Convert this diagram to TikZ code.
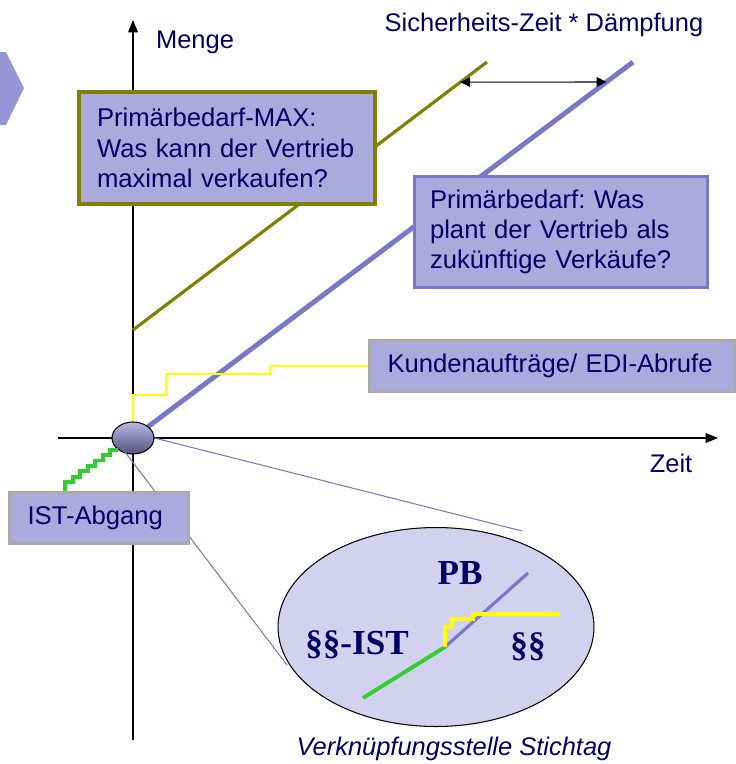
\documentclass[tikz,border=0pt]{standalone}
\usepackage{fontspec}
\setmainfont{Liberation Sans}
\newfontfamily\serifbold{Liberation Serif}[BoldFont={Liberation Serif Bold}]
\usepackage{tikz}
\usepackage{xcolor}
\usetikzlibrary{positioning, shapes.geometric, arrows.meta}
\frenchspacing

\definecolor{navy}{RGB}{0,0,102}
\definecolor{boxfill}{RGB}{170,170,221}
\definecolor{olivlinie}{RGB}{128,128,0}
\definecolor{pblinie}{RGB}{120,120,200}
\definecolor{grau}{RGB}{170,170,170}
\definecolor{lupenfill}{RGB}{210,210,238}
\definecolor{gruen}{RGB}{51,204,51}
\definecolor{gelb}{RGB}{255,255,0}
\definecolor{pfeilfill}{RGB}{150,150,214}

\begin{document}
\begin{tikzpicture}[
    x=0.02cm, y=-0.02cm,
    kasten/.style={rectangle, draw, fill=boxfill, line width=2pt, text=navy,
      align=left, inner ysep=0pt, font=\fontsize{14.6}{17.2}\selectfont},
    beschr/.style={text=navy, inner sep=0pt, font=\fontsize{14.5}{16}\selectfont},
    lupentext/.style={text=navy, inner sep=0pt, font=\serifbold\bfseries\fontsize{20}{22}\selectfont},
    achse/.style={line width=0.7pt, -{Triangle[length=7pt,width=5.5pt]}},
    lupenlinie/.style={draw=pblinie, line width=0.6pt},
    line/.style={-}
    ]

    \useasboundingbox (0,0) rectangle (736,764);

    % Pfeil links
    \fill[pfeilfill] (0,52) -- (6,52) -- (24,88) -- (6,125) -- (0,125) -- cycle;

    % Achsen
    \coordinate (Ursprung) at (133,438);
    \coordinate (xAnfang) at (58,438);
    \coordinate (xEnde) at (718,438);
    \coordinate (yAnfang) at (133,740);
    \coordinate (yEnde) at (133,20);
    \draw[achse] (xAnfang) -- (xEnde);
    \draw[achse] (yAnfang) -- (yEnde);

    \node[beschr] (Menge) at (195,42) {Menge};
    \node[beschr] (Zeit) at (671,463) {Zeit};

    % Kurven
    \coordinate (MaxAnfang) at (133,330);
    \coordinate (MaxEnde) at (487,62);
    \coordinate (PbEnde) at (633,62);
    \draw[olivlinie, line width=1.8pt] (MaxAnfang) -- (MaxEnde);
    \draw[pblinie, line width=2.8pt] (Ursprung) -- (PbEnde);

    % Sicherheitszeit
    \path (MaxAnfang) -- (MaxEnde) coordinate[pos=0.925] (MaxPunkt);
    \path (Ursprung) -- (PbEnde) coordinate[pos=0.9468] (PbPunkt);
    \draw[line width=0.6pt, {Triangle[length=5.5pt,width=5.5pt]}-{Triangle[length=5.5pt,width=5.5pt]}]
    (MaxPunkt) -- (PbPunkt);
    \node[beschr] (Sicherheit) at (544,25) {Sicherheits-Zeit * Dämpfung};

    % Kundenauftraege
    \node[kasten, draw=grau, line width=1.7pt, text width=6.58cm,
      inner xsep=0.36cm, minimum height=1.04cm] (Kunden) at (552,366)
    {Kundenaufträge/ EDI-Abrufe};
    \draw[gelb, line width=1.7pt] (Ursprung) -- ++(0,-43) -- ++(33,0)
    -- ++(0,-21) -- ++(104,0) -- ++(0,-8) -- (Kunden.west);

    % Stichtag
    \node[ellipse, draw, line width=0.6pt, minimum width=0.84cm,
      minimum height=0.64cm, top color={rgb,255:red,185;green,185;blue,228},
      bottom color={rgb,255:red,80;green,80;blue,120}] (Stichtag) at (Ursprung) {};
    \draw[gruen, line width=2.2pt] (Stichtag.south west)
    \foreach \i in {1,...,7} { -- ++(-7.5,0) -- ++(0,5.4) } -- ++(0,8);

    % Lupe
    \coordinate (StichtagInnen) at (122,448);
    \coordinate (LupeOben) at (522,531);
    \coordinate (LupeLinks) at (287,665);
    \draw[lupenlinie] (Stichtag.east) -- (LupeOben);
    \draw[lupenlinie] (StichtagInnen) -- (LupeLinks);

    \node[ellipse, draw, fill=lupenfill, line width=0.6pt, minimum width=6.32cm,
      minimum height=3.98cm] (Lupe) at (436,627) {};
    \coordinate (LupeMitte) at (445,647);
    \draw[gruen, line width=2.2pt] (363,698) -- (LupeMitte);
    \draw[pblinie, line width=1.8pt] (LupeMitte) -- (528,573);
    \draw[gelb, line width=2pt] (LupeMitte) -- ++(0,-20) -- ++(7,0) -- ++(0,-8)
    -- ++(21,0) -- ++(0,-5) -- ++(87,0);
    \node[lupentext] (PB) at (460,573) {PB};
    \node[lupentext] (ParaIst) at (357,645) {§§-IST};
    \node[lupentext] (Para) at (528,647) {§§};
    \node[beschr, font=\itshape\fontsize{14.5}{16}\selectfont] (Verknuepfung)
    at (454,749) {Verknüpfungsstelle Stichtag};

    % Kaesten
    \node[kasten, draw=grau, line width=2.2pt, text width=2.86cm,
      inner xsep=0.36cm, minimum height=1.02cm] (IstAbgang) at (99,518)
    {IST-Abgang};

    \node[kasten, draw=olivlinie, line width=2.3pt, text width=5.2cm,
      inner xsep=0.36cm, minimum height=2.24cm] (PrimaerMax) at (227,148)
    {Primärbedarf-MAX:\\Was kann der Vertrieb\\maximal verkaufen?};

    \node[kasten, draw=pblinie, line width=1.7pt, text width=5.24cm,
      inner xsep=0.32cm, minimum height=2.24cm] (Primaer) at (561,232)
    {Primärbedarf: Was\\plant der Vertrieb als\\zukünftige Verkäufe?};

  \end{tikzpicture}
\end{document}
